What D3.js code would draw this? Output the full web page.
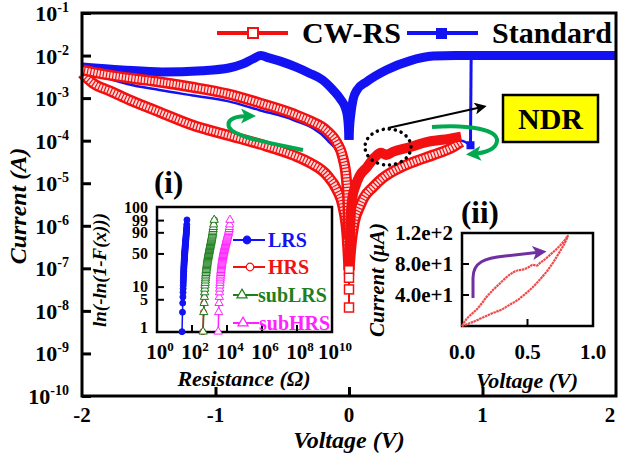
<!DOCTYPE html>
<html>
<head>
<meta charset="utf-8">
<script src="https://cdn.jsdelivr.net/npm/d3@7/dist/d3.min.js"></script>
<style>
body { margin: 0; background: #fff; }
svg text { font-family: "Liberation Serif", "Times New Roman", serif; font-weight: bold; }
.it { font-style: italic; }
</style>
</head>
<body>
<svg width="618" height="454"></svg>
<script>
// main I-V sweeps, [voltage (V), current (A)]
const stdLrsNeg = [[-2,5.4e-3],[-1.7,4.6e-3],[-1.4,4.1e-3],[-1.1,4.4e-3],[-0.9,5.1e-3],[-0.8,6.3e-3],[-0.72,8.3e-3],[-0.66,1.0e-2],[-0.6,8.8e-3],[-0.5,7.1e-3],[-0.4,5.4e-3],[-0.3,3.9e-3],[-0.2,2.7e-3],[-0.12,1.55e-3],[-0.06,9.1e-4],[-0.03,6.2e-4],[-0.012,3.8e-4],[-0.004,2.0e-4],[0,1.05e-4]];
const stdLrsPos = [[0,1.05e-4],[0.004,2.0e-4],[0.012,3.8e-4],[0.03,9.1e-4],[0.06,1.55e-3],[0.13,2.4e-3],[0.28,4.6e-3],[0.45,7.4e-3],[0.63,9.7e-3],[0.8,1e-2],[1.2,1e-2],[1.6,1e-2],[2,1e-2]];
const stdHrsNeg = [[-2,5.5e-3],[-1.85,3.3e-3],[-1.66,2.15e-3],[-1.42,1.55e-3],[-1.17,1.15e-3],[-0.91,8.5e-4],[-0.67,5.2e-4],[-0.42,3.1e-4],[-0.165,1.05e-4],[-0.045,3.0e-5],[-0.015,8e-6],[-0.004,1.5e-6],[0,7e-8]];
const stdHrsPos = [[0,7e-8],[0.008,2e-6],[0.045,1.0e-5],[0.135,2.8e-5],[0.2,4.6e-5],[0.25,6.0e-5],[0.3,5.5e-5],[0.46,7.8e-5],[0.7,1.0e-4],[0.84,1.0e-4],[0.91,7.8e-5]];
const stdSet = [[0.91,7.8e-5],[0.915,1e-2]];

const cwNegUpper = [[-2,4.6e-3],[-1.85,3.7e-3],[-1.66,3.0e-3],[-1.42,2.4e-3],[-1.17,1.8e-3],[-0.91,1.26e-3],[-0.67,7.7e-4],[-0.42,4.3e-4],[-0.29,2.9e-4],[-0.165,1.7e-4],[-0.09,8.9e-5],[-0.045,3.9e-5],[-0.02,1.3e-5],[-0.008,3.1e-6],[-0.002,4.7e-7]];
const cwNegLower = [[-2,3.8e-3],[-1.92,2.26e-3],[-1.79,1.47e-3],[-1.66,9.5e-4],[-1.42,4.7e-4],[-1.17,2.3e-4],[-0.91,1.35e-4],[-0.67,8.3e-5],[-0.42,4.6e-5],[-0.29,3.0e-5],[-0.165,1.55e-5],[-0.09,6.9e-6],[-0.045,2.8e-6],[-0.015,6e-7],[0,9e-8]];
const cwPosUpper = [[0,9e-8],[0.003,1.5e-7],[0.012,1.5e-6],[0.025,4.5e-6],[0.045,8.1e-6],[0.08,1.5e-5],[0.135,2.4e-5],[0.19,4.0e-5],[0.24,5.2e-5],[0.28,4.6e-5],[0.33,5.5e-5],[0.46,7.1e-5],[0.58,9.3e-5],[0.7,1.05e-4],[0.84,1.25e-4]];
const cwPosLower = [[0,9e-8],[0.015,3.5e-7],[0.04,1.23e-6],[0.08,2.8e-6],[0.11,4.5e-6],[0.18,8.1e-6],[0.25,1.3e-5],[0.38,2.3e-5],[0.5,3.3e-5],[0.63,4.6e-5],[0.78,7.1e-5],[0.84,9.3e-5]];
const cwTail = [[0,9e-8],[0,6e-8],[0,3.2e-8],[0,1.2e-8]];

const decadeExps = [-1,-2,-3,-4,-5,-6,-7,-8,-9,-10];
const voltTicks = [-2,-1,0,1,2];

// inset (i): resistance distributions (ohm)
const lrsR = [26.9,28.6,29.5,30.2,30.7,31.1,31.5,31.8,32.1,32.4,32.7,33.0,33.2,33.5,33.8,34.0,34.3,34.6,34.9,35.1,35.4,35.7,36.0,36.2,36.5,36.8,37.1,37.4,37.7,38.0,38.3,38.6,38.9,39.2,39.5,39.8,40.1,40.4,40.7,41.0,41.3,41.7,42.0,42.4,42.8,43.2,43.6,44.0,44.5,45.0,45.5,46.0,46.6,47.2,47.8,48.4,49.0,49.6,50.3,51.5];
const hrsR = [415,455,480,500,515,530,545,558,570,582,594,606,618,630,642,655,668,681,694,708,722,736,750,765,780,796,812,828,845,862,880,898,917,936,956,976,997,1018,1040,1063,1086,1110,1135,1160,1186,1213,1241,1270,1300,1331,1364,1398,1434,1472,1512,1556,1605,1665,1750,1950];
const subLrsR = [430,470,495,512,528,542,556,569,581,593,605,617,629,641,653,666,679,692,705,719,733,747,762,777,792,808,824,841,858,875,893,911,930,949,969,989,1010,1031,1053,1075,1098,1122,1146,1171,1197,1224,1252,1281,1311,1342,1374,1408,1443,1480,1520,1563,1610,1665,1735,1850];
const subHrsR = [3150,3350,3500,3620,3720,3810,3900,3980,4060,4140,4220,4300,4380,4460,4540,4620,4710,4800,4890,4980,5070,5170,5270,5370,5480,5590,5700,5820,5940,6070,6200,6340,6480,6630,6780,6940,7100,7270,7450,7640,7840,8050,8270,8500,8740,9000,9270,9560,9870,10200,10550,10920,11320,11750,12200,12700,13200,13700,14200,14800];
const pctTicks = [1,5,10,50,90,99,99.99];
const pctLabels = ["1","5","10","50","90","99","100"];
const resExps = [0,2,4,6,8,10];

// inset (ii): I-V loop, [voltage (V), current (uA)]
const iiUpper = [[0,0],[0.03,8],[0.07,15],[0.11,21],[0.15,29],[0.19,38],[0.24,47],[0.29,55],[0.34,63],[0.39,69],[0.43,72],[0.47,73],[0.51,76],[0.54,79],[0.57,78],[0.6,82],[0.64,87],[0.68,93],[0.72,99],[0.76,106],[0.79,112],[0.81,117]];
const iiLower = [[0,0],[0.08,5],[0.16,11],[0.24,17],[0.3,21],[0.36,27],[0.42,33],[0.48,41],[0.54,50],[0.6,61],[0.65,71],[0.7,83],[0.75,97],[0.79,109],[0.81,117]];
const iiYTicks = [40,80,120];
const iiXTicks = [0,0.5,1];

var RED = "#f21010", BLUE = "#1212f2", GREEN = "#00a84f", DKGREEN = "#1f7f1f", MAG = "#ff22ff";

var svg = d3.select("svg");
var defs = svg.append("defs");
function arrowHead(id, color, size) {
  defs.append("marker").attr("id", id).
  attr("viewBox", "0 0 10 10").attr("refX", 6).attr("refY", 5).
  attr("markerUnits", "userSpaceOnUse").
  attr("markerWidth", size).attr("markerHeight", size).
  attr("orient", "auto").
  append("path").attr("d", "M0,0 L10,5 L0,10 L2.5,5 z").attr("fill", color);
}
arrowHead("agreen", GREEN, 15);
arrowHead("ablack", "#000", 12);
arrowHead("apurple", "#7030a0", 14);

var x = d3.scaleLinear().domain([-2, 2]).range([82, 616]);
var y = d3.scaleLog().domain([1e-10, 1e-1]).range([396, 13]);

var line = d3.line().x(function (d) {return x(d[0]);}).y(function (d) {return y(d[1]);}).curve(d3.curveMonotoneX);
var lineStraight = d3.line().x(function (d) {return x(d[0]);}).y(function (d) {return y(d[1]);});

var plot = svg.append("g");

// thin blue (HRS) sweeps
[stdHrsNeg, stdHrsPos].forEach(function (s) {
  plot.append("path").attr("d", line(s)).attr("fill", "none").attr("stroke", BLUE).attr("stroke-width", 2.5);
});
plot.append("path").attr("d", lineStraight(stdSet)).attr("fill", "none").attr("stroke", BLUE).attr("stroke-width", 3);
plot.selectAll(".setpt").data(stdSet).enter().append("rect").
attr("x", function (d) {return x(d[0]) - 4;}).attr("y", function (d) {return y(d[1]) - 4;}).
attr("width", 8).attr("height", 8).attr("fill", BLUE);

// thick blue (LRS) sweeps, dense filled squares
[stdLrsNeg, stdLrsPos].forEach(function (s) {
  plot.append("path").attr("d", line(s)).attr("fill", "none").attr("stroke", BLUE).
  attr("stroke-width", 9).attr("stroke-linejoin", "round");
});

// red CW-RS bands made of dense hollow squares
function hollowBand(s) {
  plot.append("path").attr("d", line(s)).attr("fill", "none").attr("stroke", RED).attr("stroke-width", 11);
  plot.append("path").attr("d", line(s)).attr("fill", "none").attr("stroke", "#ffdada").
  attr("stroke-width", 6).attr("stroke-dasharray", "2,1.2");
}
hollowBand(cwNegLower);
hollowBand(cwNegUpper);
hollowBand(cwPosLower);
plot.append("path").attr("d", line(cwPosUpper)).attr("fill", "none").attr("stroke", RED).attr("stroke-width", 10);

plot.append("path").attr("d", lineStraight(cwTail)).attr("stroke", RED).attr("stroke-width", 2);
plot.selectAll(".tail").data(cwTail).enter().append("rect").
attr("x", function (d) {return x(d[0]) - 4.5;}).attr("y", function (d) {return y(d[1]) - 4.5;}).
attr("width", 9).attr("height", 9).attr("fill", "#fff").attr("stroke", RED).attr("stroke-width", 1.5);

// frame and axes
svg.append("rect").attr("x", 82).attr("y", 13).attr("width", 534).attr("height", 383).
attr("fill", "none").attr("stroke", "#000").attr("stroke-width", 3);

var gy = svg.append("g").attr("transform", "translate(82,0)").
call(d3.axisLeft(y).tickValues(decadeExps.map(function (e) {return Math.pow(10, e);})).tickSize(-9).tickFormat(""));
gy.select(".domain").remove();
gy.selectAll("line").attr("stroke-width", 3);

var gx = svg.append("g").attr("transform", "translate(0,396)").
call(d3.axisBottom(x).tickValues([-1, 0, 1]).tickSize(-9).tickFormat(""));
gx.select(".domain").remove();
gx.selectAll("line").attr("stroke-width", 3);

var ylab = svg.append("g").selectAll("text").data(decadeExps).enter().append("text").
attr("x", 69).attr("y", function (d) {return y(Math.pow(10, d)) + 8;}).
attr("text-anchor", "end").attr("font-size", 22);
ylab.append("tspan").text("10");
ylab.append("tspan").attr("dy", -9).attr("font-size", 14).text(function (d) {return d;});

svg.append("g").selectAll("text").data(voltTicks).enter().append("text").
attr("x", function (d) {return Math.min(x(d), 610);}).attr("y", 422).attr("text-anchor", "middle").
attr("font-size", 21).text(function (d) {return d;});

svg.append("text").attr("class", "it").attr("x", 349).attr("y", 448).attr("text-anchor", "middle").
attr("font-size", 24).text("Voltage (V)");
svg.append("text").attr("class", "it").attr("transform", "translate(26,206) rotate(-90)").
attr("text-anchor", "middle").attr("font-size", 24).text("Current (A)");

// legend
svg.append("line").attr("x1", 217).attr("x2", 288).attr("y1", 33).attr("y2", 33).attr("stroke", RED).attr("stroke-width", 4);
svg.append("rect").attr("x", 248).attr("y", 28).attr("width", 10).attr("height", 10).attr("fill", "#fff").attr("stroke", RED).attr("stroke-width", 2);
svg.append("text").attr("x", 302).attr("y", 43).attr("font-size", 30).text("CW-RS");
svg.append("line").attr("x1", 407).attr("x2", 478).attr("y1", 33).attr("y2", 33).attr("stroke", BLUE).attr("stroke-width", 4);
svg.append("rect").attr("x", 436).attr("y", 28).attr("width", 11).attr("height", 11).attr("fill", BLUE);
svg.append("text").attr("x", 492).attr("y", 43).attr("font-size", 30).text("Standard");

// annotations
svg.append("path").attr("d", "M303,150 C270,143 233,137 229,127 C226,118 238,116 250,116").
attr("fill", "none").attr("stroke", GREEN).attr("stroke-width", 4).attr("marker-end", "url(#agreen)");
svg.append("path").attr("d", "M432,127 C470,124 498,130 497,141 C496,150 485,153 472,154").
attr("fill", "none").attr("stroke", GREEN).attr("stroke-width", 4).attr("marker-end", "url(#agreen)");
svg.append("ellipse").attr("cx", 388).attr("cy", 147).attr("rx", 23).attr("ry", 18).
attr("fill", "none").attr("stroke", "#000").attr("stroke-width", 3.5).
attr("stroke-dasharray", "0.1,6").attr("stroke-linecap", "round");
svg.append("line").attr("x1", 388).attr("y1", 128).attr("x2", 482).attr("y2", 107).
attr("stroke", "#000").attr("stroke-width", 2).attr("marker-end", "url(#ablack)");
svg.append("rect").attr("x", 503).attr("y", 95).attr("width", 95).attr("height", 47).
attr("fill", "#ffff00").attr("stroke", "#000").attr("stroke-width", 2.5);
svg.append("text").attr("x", 550.5).attr("y", 129).attr("text-anchor", "middle").attr("font-size", 30).text("NDR");

// ---------- inset (i) ----------
var xi = d3.scaleLog().domain([1, 1e10]).range([157, 332]);
var yi = d3.scaleLinear().domain([-4.8, 2.3]).range([332, 207]);
function wb(p) {return Math.log(-Math.log(1 - p));}
var ins1 = svg.append("g");
ins1.append("rect").attr("x", 157).attr("y", 207).attr("width", 175).attr("height", 125).
attr("fill", "#fff").attr("stroke", "#000").attr("stroke-width", 2.5);
ins1.selectAll(".yt").data(pctTicks.slice(1, 6)).enter().append("line").
attr("x1", 157).attr("x2", 164).attr("y1", function (d) {return yi(wb(d / 100));}).attr("y2", function (d) {return yi(wb(d / 100));}).
attr("stroke", "#000").attr("stroke-width", 2);
ins1.selectAll(".xt").data(resExps.slice(1, 5)).enter().append("line").
attr("x1", function (d) {return xi(Math.pow(10, d));}).attr("x2", function (d) {return xi(Math.pow(10, d));}).
attr("y1", 332).attr("y2", 325).attr("stroke", "#000").attr("stroke-width", 2);
ins1.selectAll(".yl").data(pctTicks).enter().append("text").
attr("x", 148).attr("y", function (d) {return yi(wb(d / 100)) + 5;}).attr("text-anchor", "end").
attr("font-size", 16).text(function (d, i) {return pctLabels[i];});
var xl = ins1.selectAll(".xl").data(resExps).enter().append("text").
attr("x", function (d) {return xi(Math.pow(10, d)) + 3;}).attr("y", 359).attr("text-anchor", "middle").attr("font-size", 21);
xl.append("tspan").text("10");
xl.append("tspan").attr("dy", -8).attr("font-size", 13).text(function (d) {return d;});
ins1.append("text").attr("class", "it").attr("x", 244).attr("y", 386).attr("text-anchor", "middle").attr("font-size", 22).text("Resistance (\u03A9)");
ins1.append("text").attr("class", "it").attr("transform", "translate(106,270) rotate(-90)").
attr("text-anchor", "middle").attr("font-size", 19).text("ln(-ln(1-F(x)))");
svg.append("text").attr("x", 154).attr("y", 193).attr("font-size", 31).text("(i)");

var series1 = [
  {r: lrsR, color: BLUE, shape: "circle", fill: BLUE},
  {r: hrsR, color: RED, shape: "circle", fill: "#fff"},
  {r: subLrsR, color: DKGREEN, shape: "tri", fill: "#fff"},
  {r: subHrsR, color: MAG, shape: "tri", fill: "#fff"}];
var lineI = d3.line().x(function (d) {return xi(d[0]);}).y(function (d) {return yi(d[1]);});
series1.forEach(function (s) {
  var pts = s.r.map(function (v, i) {return [v, wb((i + 0.5) / s.r.length)];});
  ins1.append("path").attr("d", lineI(pts)).attr("fill", "none").attr("stroke", s.color).attr("stroke-width", 1.5);
  var sym = d3.symbol().type(s.shape === "circle" ? d3.symbolCircle : d3.symbolTriangle).size(s.shape === "circle" ? 28 : 30);
  ins1.selectAll(null).data(pts).enter().append("path").attr("d", sym).
  attr("transform", function (d) {return "translate(" + xi(d[0]) + "," + yi(d[1]) + ")";}).
  attr("fill", s.fill).attr("stroke", s.color).attr("stroke-width", 1);
});
var legI = [
  {name: "LRS", color: BLUE, shape: "circle", fill: BLUE, y: 240, tx: 268, x2: 265, mx: 247},
  {name: "HRS", color: RED, shape: "circle", fill: "#fff", y: 267, tx: 268, x2: 265, mx: 250},
  {name: "subLRS", color: DKGREEN, shape: "tri", fill: "#fff", y: 295, tx: 258, x2: 258, mx: 242},
  {name: "subHRS", color: MAG, shape: "tri", fill: "#fff", y: 323, tx: 259, x2: 259, mx: 243}];
legI.forEach(function (l) {
  ins1.append("line").attr("x1", 233).attr("x2", l.x2).attr("y1", l.y).attr("y2", l.y).attr("stroke", l.color).attr("stroke-width", 2);
  ins1.append("path").attr("d", d3.symbol().type(l.shape === "circle" ? d3.symbolCircle : d3.symbolTriangle).size(45)).
  attr("transform", "translate(" + l.mx + "," + l.y + ")").attr("fill", l.fill).attr("stroke", l.color).attr("stroke-width", 1.2);
  ins1.append("text").attr("x", l.tx).attr("y", l.y + 7).attr("font-size", 20).attr("fill", l.color).text(l.name);
});

// ---------- inset (ii) ----------
var x2 = d3.scaleLinear().domain([0, 1]).range([462, 593]);
var y2 = d3.scaleLinear().domain([0, 120]).range([326, 233]);
var ins2 = svg.append("g");
ins2.append("rect").attr("x", 462).attr("y", 233).attr("width", 131).attr("height", 93).
attr("fill", "#fff").attr("stroke", "#000").attr("stroke-width", 2.5);
ins2.selectAll(".yt").data(iiYTicks.slice(0, 2)).enter().append("line").
attr("x1", 462).attr("x2", 469).attr("y1", function (d) {return y2(d);}).attr("y2", function (d) {return y2(d);}).
attr("stroke", "#000").attr("stroke-width", 2);
ins2.append("line").attr("x1", x2(0.5)).attr("x2", x2(0.5)).attr("y1", 326).attr("y2", 319).attr("stroke", "#000").attr("stroke-width", 2);
ins2.selectAll(".yl").data(iiYTicks).enter().append("text").
attr("x", 453).attr("y", function (d) {return y2(d) + 7;}).attr("text-anchor", "end").attr("font-size", 21).
text(function (d) {return d3.format(".1e")(d);});
ins2.selectAll(".xl").data(iiXTicks).enter().append("text").
attr("x", function (d) {return x2(d);}).attr("y", 359).attr("text-anchor", "middle").attr("font-size", 21).
text(function (d) {return d3.format(".1f")(d);});
ins2.append("text").attr("class", "it").attr("x", 527).attr("y", 388).attr("text-anchor", "middle").attr("font-size", 22).text("Voltage (V)");
ins2.append("text").attr("class", "it").attr("transform", "translate(384,280) rotate(-90)").
attr("text-anchor", "middle").attr("font-size", 21).text("Current (\u03BCA)");
svg.append("text").attr("x", 461).attr("y", 223).attr("font-size", 31).text("(ii)");
var lineII = d3.line().x(function (d) {return x2(d[0]);}).y(function (d) {return y2(d[1]);}).curve(d3.curveMonotoneX);
[iiUpper, iiLower].forEach(function (s) {
  ins2.append("path").attr("d", lineII(s)).attr("fill", "none").attr("stroke", "#f04a4a").
  attr("stroke-width", 2.2).attr("stroke-dasharray", "2.5,0.6");
});
ins2.append("path").attr("d", "M473,298 L473,278 C473,262 485,258 505,256 L541,252").
attr("fill", "none").attr("stroke", "#7030a0").attr("stroke-width", 3).attr("marker-end", "url(#apurple)");
</script>
</body>
</html>
